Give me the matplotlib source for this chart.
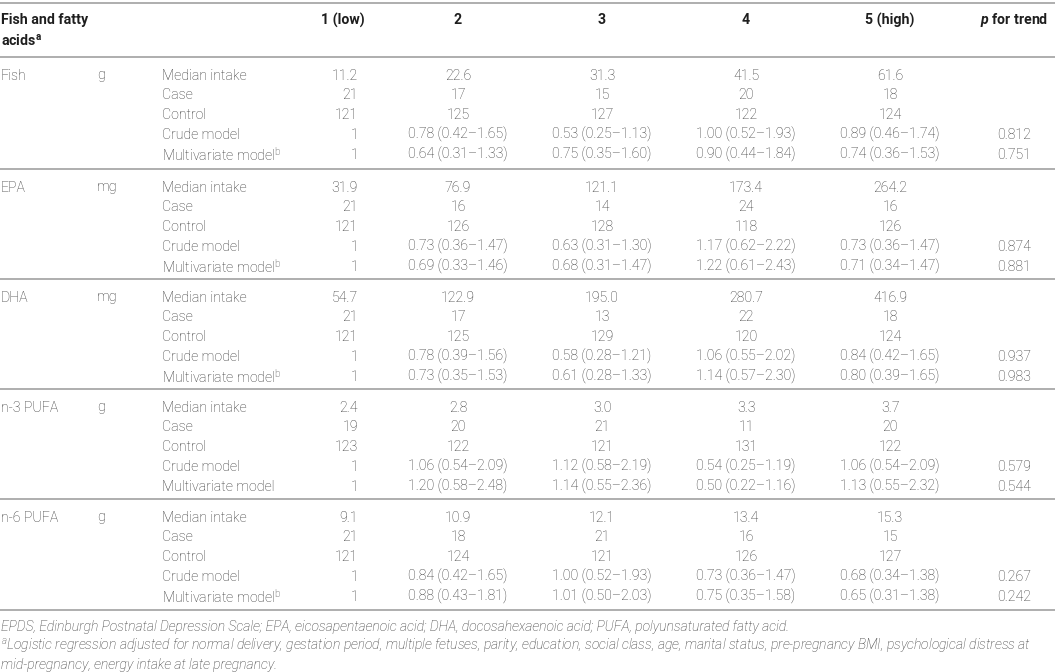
import matplotlib
matplotlib.use("Agg")
import matplotlib.pyplot as plt

plt.rcParams['font.family'] = ['Roboto', 'DejaVu Sans']
plt.rcParams['mathtext.fontset'] = 'custom'
plt.rcParams['mathtext.rm'] = 'Roboto'
plt.rcParams['mathtext.it'] = 'Roboto:italic'
plt.rcParams['mathtext.bf'] = 'Roboto:bold'
plt.rcParams['mathtext.bfit'] = 'Roboto:italic:bold'

# table data
nutrients = ["Fish", "EPA", "DHA", "n-3 PUFA", "n-6 PUFA"]
units = ["g", "mg", "mg", "g", "g"]
quintiles = ["1 (low)", "2", "3", "4", "5 (high)"]
median_intake = [
    [11.2, 22.6, 31.3, 41.5, 61.6],
    [31.9, 76.9, 121.1, 173.4, 264.2],
    [54.7, 122.9, 195.0, 280.7, 416.9],
    [2.4, 2.8, 3.0, 3.3, 3.7],
    [9.1, 10.9, 12.1, 13.4, 15.3],
]
cases = [
    [21, 17, 15, 20, 18],
    [21, 16, 14, 24, 16],
    [21, 17, 13, 22, 18],
    [19, 20, 21, 11, 20],
    [21, 18, 21, 16, 15],
]
controls = [
    [121, 125, 127, 122, 124],
    [121, 126, 128, 118, 126],
    [121, 125, 129, 120, 124],
    [123, 122, 121, 131, 122],
    [121, 124, 121, 126, 127],
]
# odds ratio (95% CI) for quintiles 2-5, reference quintile 1 = 1
crude_or = [
    [(0.78, 0.42, 1.65), (0.53, 0.25, 1.13), (1.00, 0.52, 1.93), (0.89, 0.46, 1.74)],
    [(0.73, 0.36, 1.47), (0.63, 0.31, 1.30), (1.17, 0.62, 2.22), (0.73, 0.36, 1.47)],
    [(0.78, 0.39, 1.56), (0.58, 0.28, 1.21), (1.06, 0.55, 2.02), (0.84, 0.42, 1.65)],
    [(1.06, 0.54, 2.09), (1.12, 0.58, 2.19), (0.54, 0.25, 1.19), (1.06, 0.54, 2.09)],
    [(0.84, 0.42, 1.65), (1.00, 0.52, 1.93), (0.73, 0.36, 1.47), (0.68, 0.34, 1.38)],
]
multi_or = [
    [(0.64, 0.31, 1.33), (0.75, 0.35, 1.60), (0.90, 0.44, 1.84), (0.74, 0.36, 1.53)],
    [(0.69, 0.33, 1.46), (0.68, 0.31, 1.47), (1.22, 0.61, 2.43), (0.71, 0.34, 1.47)],
    [(0.73, 0.35, 1.53), (0.61, 0.28, 1.33), (1.14, 0.57, 2.30), (0.80, 0.39, 1.65)],
    [(1.20, 0.58, 2.48), (1.14, 0.55, 2.36), (0.50, 0.22, 1.16), (1.13, 0.55, 2.32)],
    [(0.88, 0.43, 1.81), (1.01, 0.50, 2.03), (0.75, 0.35, 1.58), (0.65, 0.31, 1.38)],
]
p_crude = ["0.812", "0.874", "0.937", "0.579", "0.267"]
p_multi = ["0.751", "0.881", "0.983", "0.544", "0.242"]
multi_has_note = [True, True, True, False, True]

footnote1 = ("EPDS, Edinburgh Postnatal Depression Scale; EPA, eicosapentaenoic acid; "
             "DHA, docosahexaenoic acid; PUFA, polyunsaturated fatty acid.")
footnote2 = ("Logistic regression adjusted for normal delivery, gestation period, multiple fetuses, "
             "parity, education, social class, age, marital status, pre-pregnancy BMI, psychological distress at")
footnote3 = "mid-pregnancy, energy intake at late pregnancy."

W, H = 1055, 672
fig = plt.figure(figsize=(W / 100, H / 100), dpi=100)
ax = fig.add_axes([0, 0, 1, 1])
ax.set_xlim(0, W)
ax.set_ylim(H, 0)
ax.axis('off')

TXT = '#353535'
HDR = '#1e1e1e'
RULE = '#a8a8a8'
FS = 10.2

x_name, x_unit, x_stat = 1, 97, 162
x_col1 = 358          # right aligned
x_cols = [458, 602, 746, 890]
x_p = 1014

def fmt_or(t):
    return f"{t[0]:.2f} ({t[1]:.2f}\u2013{t[2]:.2f})"

# rules
rules = [2.5, 57, 169, 279, 389, 499, 610]
for y in rules:
    ax.plot([0, W], [y, y], color=RULE, lw=1.3, solid_capstyle='butt')

# header
ax.text(x_name, 20, "Fish and fatty", fontsize=FS, fontweight='bold', color=HDR, va='center')
ax.text(x_name, 41, r"acids$^{\mathregular{a}}$", fontsize=FS, fontweight='bold', color=HDR, va='center')
ax.text(343, 20, quintiles[0], fontsize=FS, fontweight='bold', color=HDR, va='center', ha='center')
for x, q in zip(x_cols, quintiles[1:]):
    ax.text(x, 20, q, fontsize=FS, fontweight='bold', color=HDR, va='center', ha='center')
ax.text(x_p, 20, r"$\mathbfit{p}$ for trend", fontsize=FS, fontweight='bold', color=HDR,
        va='center', ha='center')

row_gap = 19.8
for g, name in enumerate(nutrients):
    y0 = rules[g + 1] + 18.5
    ys = [y0 + i * row_gap for i in range(5)]
    ax.text(x_name, ys[0], name, fontsize=FS, color=TXT, va='center', fontweight='light')
    ax.text(x_unit, ys[0], units[g], fontsize=FS, color=TXT, va='center', fontweight='light')
    mlabel = r"Multivariate model$^{\mathregular{b}}$" if multi_has_note[g] else "Multivariate model"
    labels = ["Median intake", "Case", "Control", "Crude model", mlabel]
    rows = [
        [f"{v:.1f}" for v in median_intake[g]],
        [str(v) for v in cases[g]],
        [str(v) for v in controls[g]],
        ["1"] + [fmt_or(t) for t in crude_or[g]],
        ["1"] + [fmt_or(t) for t in multi_or[g]],
    ]
    for i in range(5):
        ax.text(x_stat, ys[i], labels[i], fontsize=FS, color=TXT, va='center', fontweight='light')
        ax.text(x_col1, ys[i], rows[i][0], fontsize=FS, color=TXT, va='center', ha='right',
                fontweight='light')
        for x, s in zip(x_cols, rows[i][1:]):
            ax.text(x, ys[i], s, fontsize=FS, color=TXT, va='center', ha='center', fontweight='light')
    ax.text(x_p, ys[3], p_crude[g], fontsize=FS, color=TXT, va='center', ha='center', fontweight='light')
    ax.text(x_p, ys[4], p_multi[g], fontsize=FS, color=TXT, va='center', ha='center', fontweight='light')

# footnotes
FFS = 10.0
ax.text(x_name, 627, footnote1, fontsize=FFS, style='italic', color=TXT, va='center', fontweight='light')
ax.text(x_name, 647, r"$^{\mathregular{a}}$" + footnote2, fontsize=FFS, style='italic', color=TXT,
        va='center', fontweight='light')
ax.text(x_name, 665, footnote3, fontsize=FFS, style='italic', color=TXT, va='center', fontweight='light')

fig.savefig("out.png", dpi=100)
